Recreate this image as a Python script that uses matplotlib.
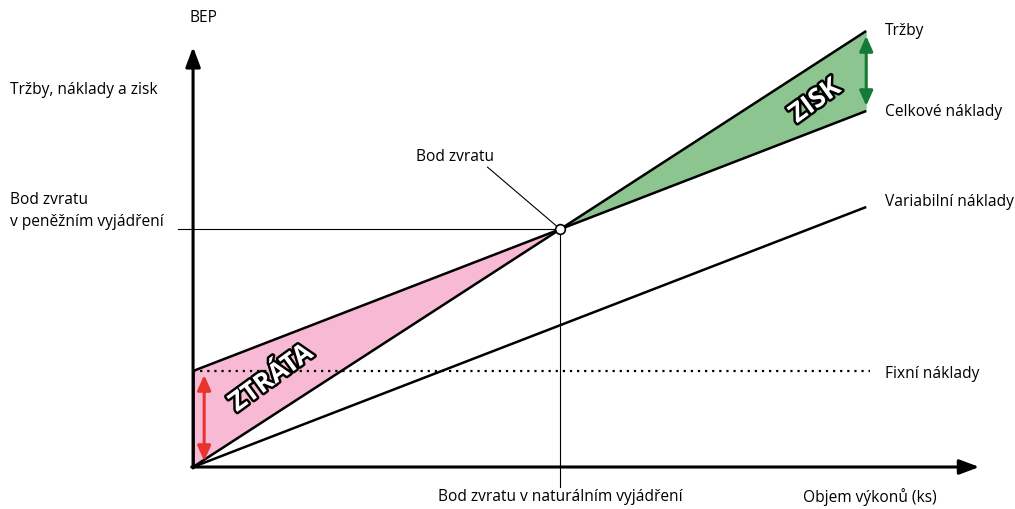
import matplotlib.pyplot as plt
import matplotlib.patheffects as pe
import numpy as np

plt.rcParams['font.family'] = ['Open Sans', 'DejaVu Sans']

# model of break-even analysis (quantity units, money units)
q_max = 100.0        # end of plotted lines
price = 4.36         # sales per unit
unit_var = 2.6       # variable cost per unit
fixed = 96.0         # fixed costs
q_bep = fixed / (price - unit_var)
s_bep = price * q_bep

q = np.array([0.0, q_max])
sales = price * q
var_cost = unit_var * q
total_cost = fixed + unit_var * q

fig = plt.figure(figsize=(10.15, 5.1), dpi=100)
ax = fig.add_axes([0, 0, 1, 1])
ax.set_xlim(-28.68, 122.1)
ax.set_ylim(-42, 468)
ax.axis('off')

# loss / profit areas
ql = np.linspace(0, q_bep, 50)
ax.fill_between(ql, price * ql, fixed + unit_var * ql, color='#f7b9d4', lw=0)
qp = np.linspace(q_bep, q_max, 50)
ax.fill_between(qp, price * qp, fixed + unit_var * qp, color='#8cc590', lw=0)

# guide lines to the break-even point
ax.plot([-2.2, q_bep], [s_bep, s_bep], color='black', lw=0.8)
ax.plot([q_bep, q_bep], [s_bep, -20], color='black', lw=0.8)

ax.plot([0, q_max + 0.6], [fixed, fixed], color='black', lw=1.6, ls=(0, (1, 2.2)))
ax.plot(q, sales, color='black', lw=1.8, solid_capstyle='butt')
ax.plot(q, total_cost, color='black', lw=1.8, solid_capstyle='butt')
ax.plot(q, var_cost, color='black', lw=1.8, solid_capstyle='butt')
ax.plot([0, 0], [0, fixed], color='black', lw=1.8)

# axes with arrows
ax.annotate('', xy=(0, 420), xytext=(0, -1), arrowprops=dict(arrowstyle='-|>,head_length=1.2,head_width=0.45', color='black', lw=2.2, shrinkA=0, shrinkB=0))
ax.annotate('', xy=(116.8, 0), xytext=(-0.2, 0), arrowprops=dict(arrowstyle='-|>,head_length=1.2,head_width=0.45', color='black', lw=2.2, shrinkA=0, shrinkB=0))

ax.plot(q_bep, s_bep, 'o', ms=7, mfc='white', mec='black', mew=1.2, zorder=5)
ax.plot([q_bep - 10.8, q_bep], [s_bep + 62, s_bep], color='black', lw=0.8)

# double arrows for profit and fixed costs
ax.annotate('', xy=(q_max, price * q_max - 5), xytext=(q_max, fixed + unit_var * q_max + 5),
            arrowprops=dict(arrowstyle='<|-|>,head_length=0.9,head_width=0.4', color='#137b37', lw=2.2, shrinkA=0, shrinkB=0))
ax.annotate('', xy=(1.65, fixed - 4), xytext=(1.65, 6),
            arrowprops=dict(arrowstyle='<|-|>,head_length=0.9,head_width=0.4', color='#e8342c', lw=2.2, shrinkA=0, shrinkB=0))

outline = [pe.withStroke(linewidth=3.5, foreground='black')]
ax.text(11.6, 89, 'ZTRÁTA', color='white', fontsize=19, fontweight='bold',
        rotation=36, ha='center', va='center', path_effects=outline)
ax.text(92.4, 366, 'ZISK', color='white', fontsize=19, fontweight='bold',
        rotation=36, ha='center', va='center', path_effects=outline)

fs = 11.2
ax.text(1.6, 450, 'BEP', ha='center', va='center', fontsize=fs)
ax.text(-27.2, 378, 'Tržby, náklady a zisk', ha='left', va='center', fontsize=fs)
ax.text(-27.2, 257, 'Bod zvratu\nv peněžním vyjádření', ha='left', va='center', fontsize=fs, linespacing=1.45)
ax.text(q_bep - 15.6, 311, 'Bod zvratu', ha='center', va='center', fontsize=fs)
ax.text(q_bep, -29, 'Bod zvratu v naturálním vyjádření', ha='center', va='center', fontsize=fs)
ax.text(100.5, -29, 'Objem výkonů (ks)', ha='center', va='center', fontsize=fs)
lx = q_max + 2.8
ax.text(lx, price * q_max + 1, 'Tržby', ha='left', va='center', fontsize=fs)
ax.text(lx, fixed + unit_var * q_max, 'Celkové náklady', ha='left', va='center', fontsize=fs)
ax.text(lx, unit_var * q_max + 6, 'Variabilní náklady', ha='left', va='center', fontsize=fs)
ax.text(lx, fixed - 2, 'Fixní náklady', ha='left', va='center', fontsize=fs)

fig.savefig('out.png', dpi=100)
